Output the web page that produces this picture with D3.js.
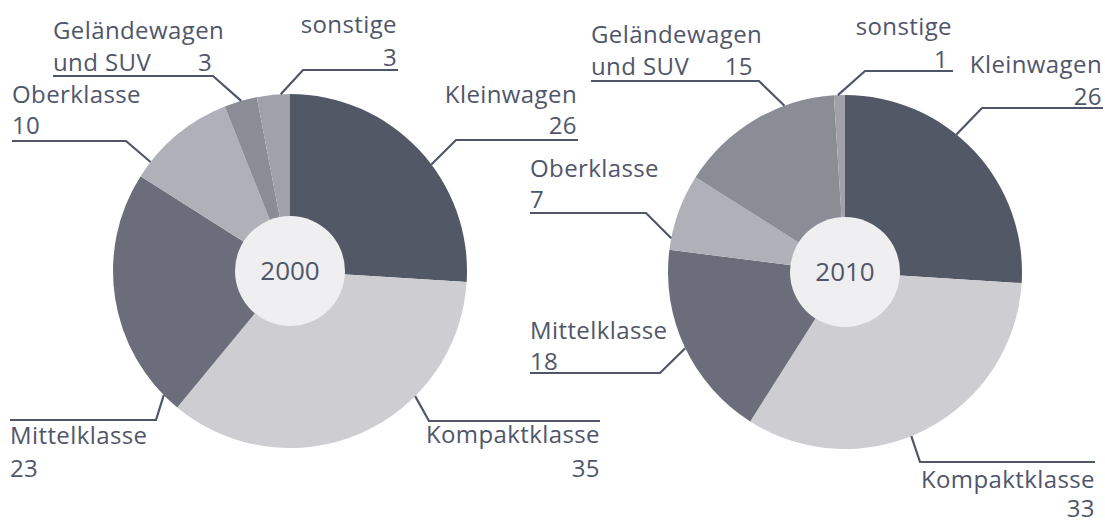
<!DOCTYPE html>
<html lang="de">
<head>
    <meta charset="utf-8">
    <title>Pkw-Segmente 2000 / 2010</title>
    <script src="https://cdnjs.cloudflare.com/ajax/libs/d3/7.8.5/d3.min.js"></script>
    <style>
        html, body { margin: 0; padding: 0; background: #fff; }
        svg { display: block; }
        .lbl { font-family: "Open Sans", "Noto Sans", sans-serif; font-size: 24px; letter-spacing: 0.4px; fill: #50566a; }
        .year { font-family: "Open Sans", "Noto Sans", sans-serif; font-size: 26px; fill: #50566a; }
        .leader { fill: none; stroke: #50566a; stroke-width: 2.2; }
    </style>
</head>
<body>
    <svg id="chart"></svg>

    <script>
        // data
        const categories = ['Kleinwagen', 'Kompaktklasse', 'Mittelklasse', 'Oberklasse', 'Geländewagen und SUV', 'sonstige'];
        const labelLines = [['Kleinwagen'], ['Kompaktklasse'], ['Mittelklasse'], ['Oberklasse'], ['Geländewagen', 'und SUV'], ['sonstige']];
        const years = ['2000', '2010'];
        const values2000 = [26, 35, 23, 10, 3, 3];
        const values2010 = [26, 33, 18, 7, 15, 1];
        const colors = ['#525866', '#cdcdd2', '#6b6e7a', '#b0b1b8', '#8a8c96', '#a0a1aa'];

        const width = 1105;
        const height = 522;

        // label placement per pie (same order as categories)
        // nx/ny: first name baseline, vx/vy: value baseline, u: underline [x1, x2, y], join: which end goes to pie, angle: rim point (deg)
        const layout2000 = [
            { nx: 577, ny: 103, na: 'end', vx: 577, vy: 134, va: 'end', u: [456, 578, 140], join: 0, angle: 53 },
            { nx: 600, ny: 443, na: 'end', vx: 600, vy: 477, va: 'end', u: [429, 600, 421], join: 0, angle: 135 },
            { nx: 10, ny: 444, na: 'start', vx: 10, vy: 477, va: 'start', u: [10, 156, 420], join: 1, angle: 225.5 },
            { nx: 12, ny: 103, na: 'start', vx: 12, vy: 134, va: 'start', u: [12, 126, 141], join: 1, angle: 308 },
            { nx: 53, ny: 39, na: 'start', vx: 212, vy: 71, va: 'end', u: [53, 213, 76], join: 1, angle: 344 },
            { nx: 397, ny: 33, na: 'end', vx: 397, vy: 66, va: 'end', u: [303, 398, 70], join: 0, angle: 357 }
        ];
        const layout2010 = [
            { nx: 1102, ny: 73, na: 'end', vx: 1102, vy: 105, va: 'end', u: [982, 1103, 108], join: 0, angle: 39 },
            { nx: 1095, ny: 488, na: 'end', vx: 1095, vy: 517, va: 'end', u: [920, 1095, 462], join: 0, angle: 158 },
            { nx: 530, ny: 339, na: 'start', vx: 530, vy: 370, va: 'start', u: [530, 660, 373], join: 1, angle: 244.5 },
            { nx: 530, ny: 177, na: 'start', vx: 530, vy: 208, va: 'start', u: [530, 646, 213], join: 1, angle: 281 },
            { nx: 591, ny: 43, na: 'start', vx: 753, vy: 75, va: 'end', u: [591, 759, 81], join: 1, angle: 340 },
            { nx: 952, ny: 35, na: 'end', vx: 948, vy: 68, va: 'end', u: [865, 953, 71], join: 0, angle: 357.7 }
        ];

        const pies = [
            { year: years[0], values: values2000, cx: 290, cy: 271, layout: layout2000 },
            { year: years[1], values: values2010, cx: 845, cy: 272, layout: layout2010 }
        ];

        const radius = 177;
        const holeRadius = 55;
        const lineH = 32;

        const svg = d3.select('#chart')
            .attr('width', width)
            .attr('height', height);

        const pie = d3.pie().sort(null).value(d => d);
        const arc = d3.arc().innerRadius(0).outerRadius(radius);
        const color = d3.scaleOrdinal().domain(categories).range(colors);

        pies.forEach(p => {
            const g = svg.append('g')
                .attr('transform', `translate(${p.cx},${p.cy})`);

            g.selectAll('path.slice')
                .data(pie(p.values))
                .enter().append('path')
                .attr('class', 'slice')
                .attr('d', arc)
                .attr('fill', (d, i) => color(categories[i]));

            g.append('circle')
                .attr('r', holeRadius)
                .attr('fill', '#efeff1');

            g.append('text')
                .attr('class', 'year')
                .attr('text-anchor', 'middle')
                .attr('dy', '0.36em')
                .text(p.year);

            // labels with leader lines
            p.layout.forEach((l, i) => {
                const a = l.angle * Math.PI / 180;
                const rx = p.cx + radius * Math.sin(a);
                const ry = p.cy - radius * Math.cos(a);
                const jx = l.u[l.join];
                const otherX = l.u[1 - l.join];

                svg.append('path')
                    .attr('class', 'leader')
                    .attr('d', d3.line()([[otherX, l.u[2]], [jx, l.u[2]], [rx, ry]]));

                labelLines[i].forEach((line, k) => {
                    svg.append('text')
                        .attr('class', 'lbl')
                        .attr('x', l.nx)
                        .attr('y', l.ny + k * lineH)
                        .attr('text-anchor', l.na)
                        .text(line);
                });

                svg.append('text')
                    .attr('class', 'lbl')
                    .attr('x', l.vx)
                    .attr('y', l.vy)
                    .attr('text-anchor', l.va)
                    .text(p.values[i]);
            });
        });
    </script>
</body>
</html>
